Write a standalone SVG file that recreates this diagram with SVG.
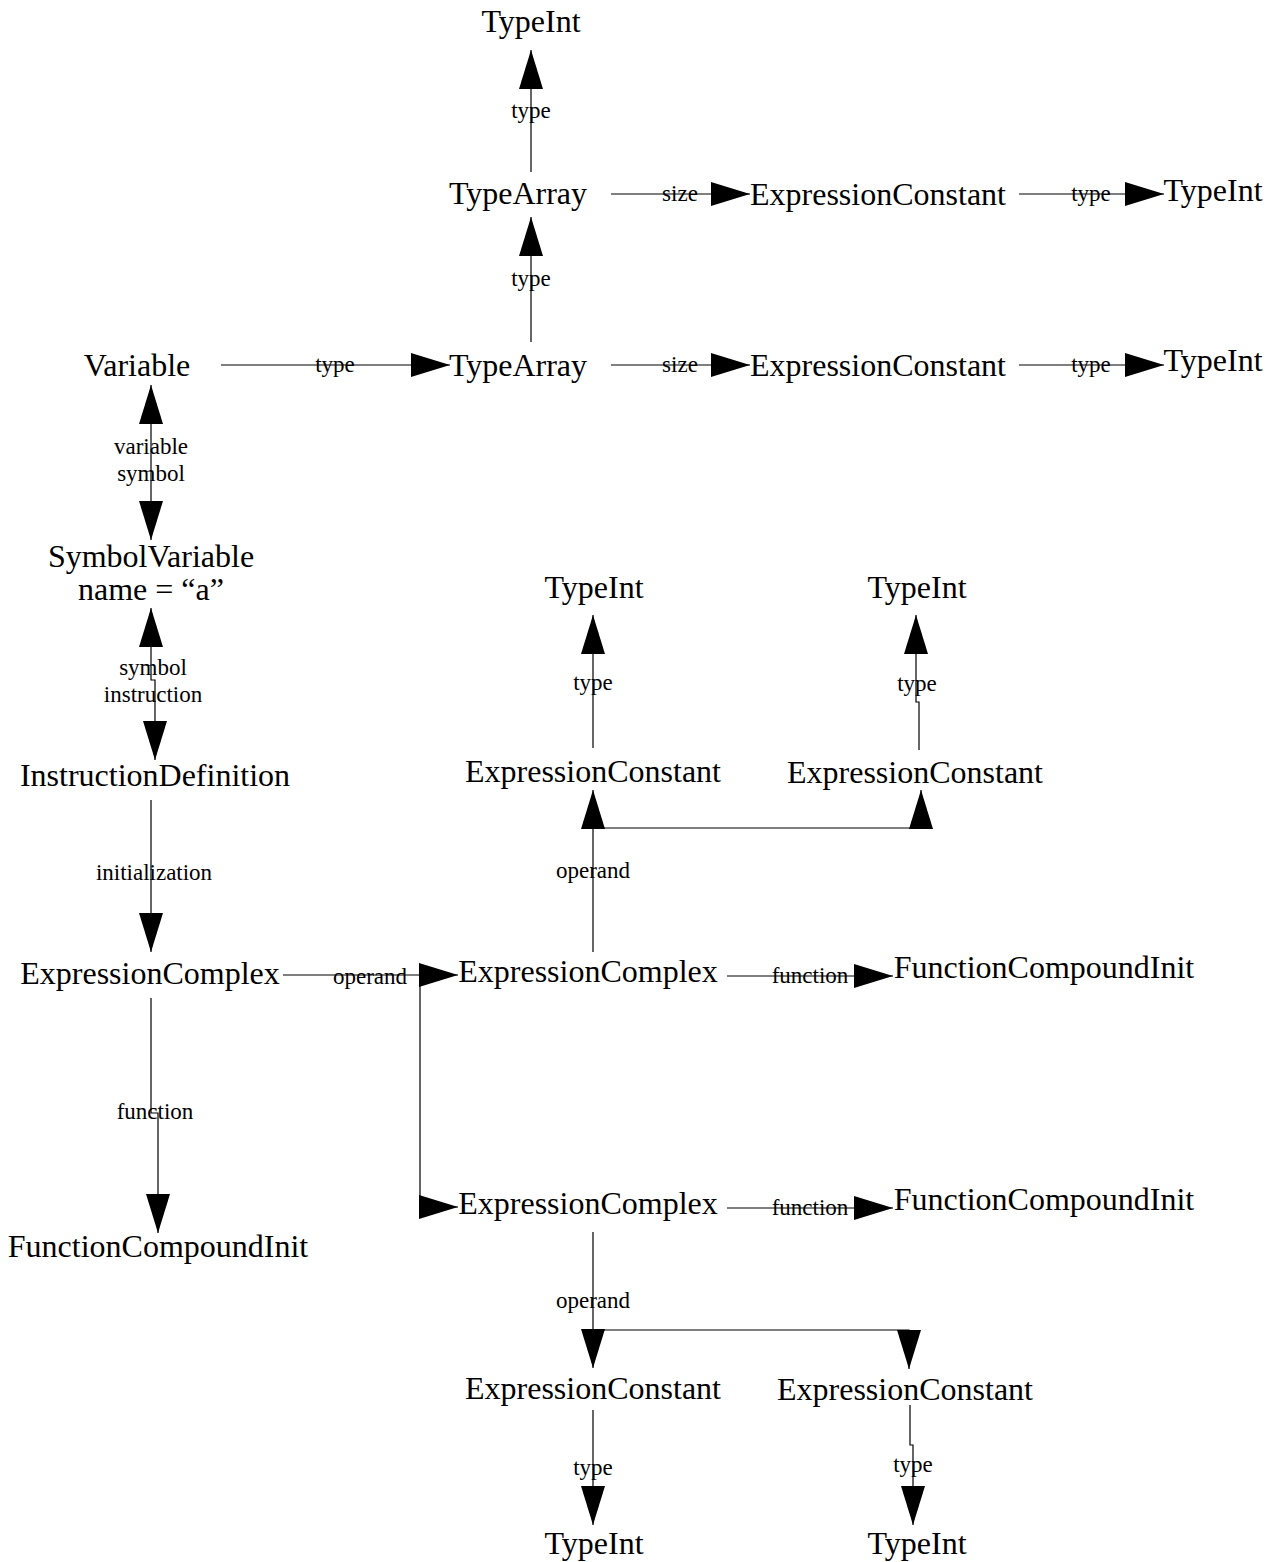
<svg xmlns="http://www.w3.org/2000/svg" width="1278" height="1562" viewBox="0 0 1278 1562">
<style>
.n{font-family:"Liberation Serif","Times New Roman",serif;font-size:32px;fill:#000;text-anchor:middle}
.l{font-family:"Liberation Serif","Times New Roman",serif;font-size:23px;fill:#000;text-anchor:middle}
.c{fill:none;stroke:#000;stroke-width:1.2}
.a{marker-end:url(#ah)}
.b{marker-start:url(#ah);marker-end:url(#ah)}
</style>
<defs>
<marker id="ah" markerUnits="userSpaceOnUse" markerWidth="40" markerHeight="26" refX="39" refY="12" orient="auto-start-reverse" viewBox="0 0 40 24">
<path d="M0,0 L39,12 L0,24 Z" fill="#000"/>
</marker>
</defs>
<rect width="1278" height="1562" fill="#fff"/>
<g id="connectors">
<path class="c a" d="M531,172 V50"/>
<path class="c a" d="M531,342 V217"/>
<path class="c a" d="M611,194 H750"/>
<path class="c a" d="M1019,194 H1164"/>
<path class="c a" d="M221,365 H450"/>
<path class="c a" d="M611,365 H750"/>
<path class="c a" d="M1019,365 H1164"/>
<path class="c b" d="M151,385 V540"/>
<path class="c b" d="M151,608 V680 H155 V760"/>
<path class="c a" d="M151,800 V952"/>
<path class="c a" d="M151,998 V1113 H158 V1233"/>
<path class="c a" d="M283,975 H458"/>
<path class="c a" d="M420,975 V1207 H458"/>
<path class="c a" d="M727,976 H893"/>
<path class="c a" d="M593,952 V790"/>
<path class="c a" d="M593,828 H921 V790"/>
<path class="c a" d="M593,748 V615"/>
<path class="c a" d="M919,750 V702 H916 V615"/>
<path class="c a" d="M727,1208 H893"/>
<path class="c a" d="M593,1232 V1368"/>
<path class="c a" d="M593,1330 H909 V1369"/>
<path class="c a" d="M593,1410 V1525"/>
<path class="c a" d="M910,1405 V1445 H913 V1525"/>
<text class="l" x="531" y="118">type</text>
<text class="l" x="531" y="286">type</text>
<text class="l" x="680" y="201">size</text>
<text class="l" x="1091" y="201">type</text>
<text class="l" x="335" y="372">type</text>
<text class="l" x="680" y="372">size</text>
<text class="l" x="1091" y="372">type</text>
<text class="l" x="151" y="454">variable</text>
<text class="l" x="151" y="481">symbol</text>
<text class="l" x="153" y="675">symbol</text>
<text class="l" x="153" y="702">instruction</text>
<text class="l" x="154" y="880">initialization</text>
<text class="l" x="155" y="1119">function</text>
<text class="l" x="370" y="984">operand</text>
<text class="l" x="810" y="983">function</text>
<text class="l" x="593" y="878">operand</text>
<text class="l" x="593" y="690">type</text>
<text class="l" x="917" y="691">type</text>
<text class="l" x="810" y="1215">function</text>
<text class="l" x="593" y="1308">operand</text>
<text class="l" x="593" y="1475">type</text>
<text class="l" x="913" y="1472">type</text>
</g>
<g id="typeint-top"><text class="n" x="531" y="32">TypeInt</text></g>
<g id="typearray-1"><text class="n" x="518" y="204">TypeArray</text></g>
<g id="exprconst-1"><text class="n" x="878" y="205">ExpressionConstant</text></g>
<g id="typeint-1"><text class="n" x="1213" y="201">TypeInt</text></g>
<g id="variable"><text class="n" x="137" y="376">Variable</text></g>
<g id="typearray-2"><text class="n" x="518" y="376">TypeArray</text></g>
<g id="exprconst-2"><text class="n" x="878" y="376">ExpressionConstant</text></g>
<g id="typeint-2"><text class="n" x="1213" y="371">TypeInt</text></g>
<g id="symbolvariable"><text class="n" x="151" y="567">SymbolVariable</text><text class="n" x="151" y="600">name = “a”</text></g>
<g id="instructiondefinition"><text class="n" x="155" y="786">InstructionDefinition</text></g>
<g id="exprcomplex-left"><text class="n" x="150" y="984">ExpressionComplex</text></g>
<g id="fci-left"><text class="n" x="158" y="1257">FunctionCompoundInit</text></g>
<g id="typeint-m1"><text class="n" x="594" y="598">TypeInt</text></g>
<g id="typeint-m2"><text class="n" x="917" y="598">TypeInt</text></g>
<g id="exprconst-m1"><text class="n" x="593" y="782">ExpressionConstant</text></g>
<g id="exprconst-m2"><text class="n" x="915" y="783">ExpressionConstant</text></g>
<g id="exprcomplex-mid"><text class="n" x="588" y="982">ExpressionComplex</text></g>
<g id="fci-mid"><text class="n" x="1044" y="978">FunctionCompoundInit</text></g>
<g id="exprcomplex-bottom"><text class="n" x="588" y="1214">ExpressionComplex</text></g>
<g id="fci-bottom"><text class="n" x="1044" y="1210">FunctionCompoundInit</text></g>
<g id="exprconst-b1"><text class="n" x="593" y="1399">ExpressionConstant</text></g>
<g id="exprconst-b2"><text class="n" x="905" y="1400">ExpressionConstant</text></g>
<g id="typeint-b1"><text class="n" x="594" y="1554">TypeInt</text></g>
<g id="typeint-b2"><text class="n" x="917" y="1554">TypeInt</text></g>
</svg>
